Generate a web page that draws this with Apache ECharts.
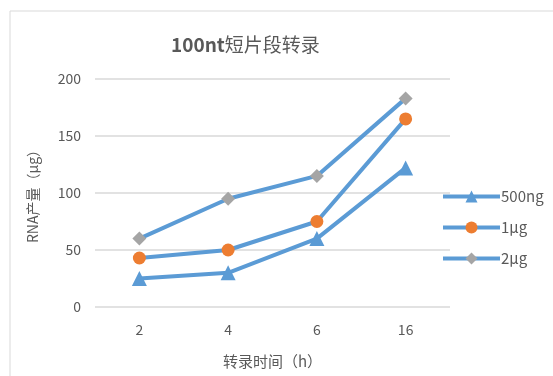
<!DOCTYPE html>
<html>
<head>
<meta charset="utf-8">
<script src="https://cdn.jsdelivr.net/npm/echarts@6/dist/echarts.min.js"></script>
<style>
  html, body { margin: 0; padding: 0; background: #fff; }
  #chart { width: 553px; height: 376px; }
</style>
</head>
<body>
<div id="chart"></div>
<script>
// Transcription time points (hours)
const categories = ['2', '4', '6', '16'];
// RNA yield (µg) per template input amount
const series500ng = [25, 30, 60, 122];
const series1ug = [43, 50, 75, 165];
const series2ug = [60, 95, 115, 183];
const seriesNames = ['500ng', '1µg', '2µg'];

const lineBlue = '#5B9BD5';
const textGray = '#595959';
const fontFamily = '"Noto Sans CJK SC", "Open Sans", sans-serif';

function makeSeries(name, data, symbol, symbolSize, color) {
  return {
    name: name,
    type: 'line',
    data: data,
    symbol: symbol,
    symbolSize: symbolSize,
    lineStyle: { color: lineBlue, width: 4 },
    itemStyle: { color: color },
    emphasis: { disabled: true },
    z: 3
  };
}

const chart = echarts.init(document.getElementById('chart'), null, { renderer: 'canvas' });
chart.setOption({
  animation: false,
  backgroundColor: '#fff',
  graphic: [{
    type: 'rect',
    shape: { x: 10, y: 11, width: 600, height: 400 },
    style: { fill: 'none', stroke: '#d9d9d9', lineWidth: 1 },
    silent: true,
    z: -1
  }],
  title: {
    text: '{b|100nt}{n|短片段转录}',
    left: 166,
    top: 30,
    textStyle: {
      rich: {
        b: { color: textGray, fontSize: 19, fontWeight: 'bold', fontFamily: fontFamily },
        n: { color: textGray, fontSize: 19, fontWeight: 'normal', fontFamily: fontFamily }
      }
    }
  },
  grid: { left: 95, right: 103, top: 79, bottom: 69, containLabel: false },
  legend: {
    orient: 'vertical',
    left: 436,
    top: 184,
    itemGap: 16,
    itemWidth: 57,
    itemHeight: 15,
    data: seriesNames,
    lineStyle: { width: 4 },
    textStyle: { color: textGray, fontSize: 15, fontFamily: fontFamily, padding: [0, 0, 0, -4] }
  },
  xAxis: {
    type: 'category',
    data: categories,
    boundaryGap: true,
    axisLine: { show: false },
    axisTick: { show: false },
    axisLabel: { color: textGray, fontSize: 14, margin: 16, fontFamily: fontFamily },
    name: '转录时间（h）',
    nameLocation: 'middle',
    nameGap: 47,
    nameTextStyle: { color: textGray, fontSize: 15, fontFamily: fontFamily }
  },
  yAxis: {
    type: 'value',
    min: 0,
    max: 200,
    interval: 50,
    axisLine: { show: false },
    axisTick: { show: false },
    axisLabel: { color: textGray, fontSize: 14, margin: 14, fontFamily: fontFamily },
    splitLine: { lineStyle: { color: '#d9d9d9', width: 1.5 } },
    name: 'RNA产量（µg）',
    nameLocation: 'middle',
    nameGap: 55,
    nameRotate: 90,
    nameTextStyle: { color: textGray, fontSize: 14, fontFamily: fontFamily }
  },
  series: [
    makeSeries(seriesNames[0], series500ng, 'triangle', 15, lineBlue),
    makeSeries(seriesNames[1], series1ug, 'circle', 13, '#ED7D31'),
    makeSeries(seriesNames[2], series2ug, 'diamond', 14, '#A5A5A5')
  ]
});
</script>
</body>
</html>
